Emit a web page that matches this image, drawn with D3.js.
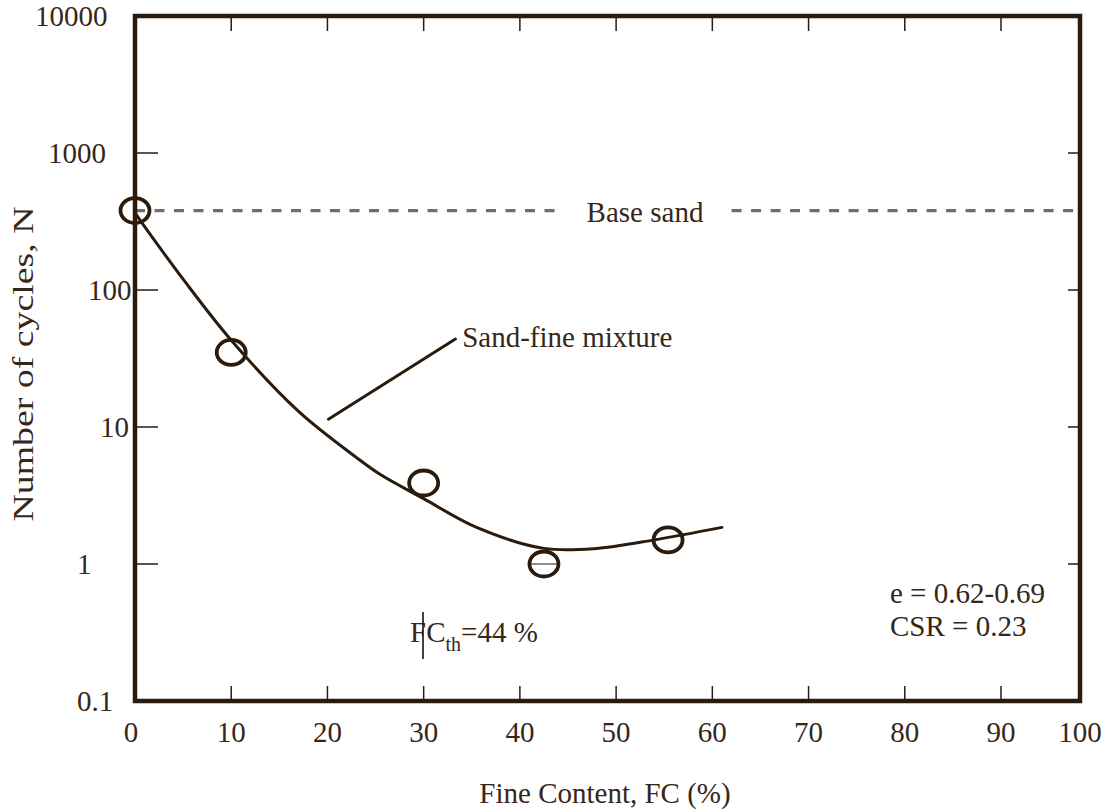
<!DOCTYPE html>
<html>
<head>
<meta charset="utf-8">
<script src="https://cdn.jsdelivr.net/npm/d3@7/dist/d3.min.js"></script>
<style>
  html, body { margin: 0; padding: 0; background: #fff; }
  svg { display: block; }
  text { font-family: "Liberation Serif", "Times New Roman", serif; fill: #36271a; }
</style>
</head>
<body>
<svg id="chart" width="1110" height="812"></svg>
<script>
// Measured cyclic tests: number of cycles to liquefaction vs fine content
const fineContent = [0, 10, 30, 42.5, 55.4];
const cycles = [380, 35, 3.9, 1.0, 1.5];

// Trend curve through the sand-fine mixture results
const trendFC = [0, 1, 5, 10, 17, 23, 25.5, 30, 35.5, 42.5, 48, 54, 61];
const trendN = [365, 290, 120, 43, 13, 6.0, 4.5, 3.0, 1.85, 1.3, 1.3, 1.5, 1.85];

// Clean base sand reference level
const baseSandN = 380;

// Axis ticks
const xTicks = [0, 10, 20, 30, 40, 50, 60, 70, 80, 90, 100];
const yTicks = [0.1, 1, 10, 100, 1000, 10000];
const yTickLabels = ["0.1", "1", "10", "100", "1000", "10000"];

const ink = "#2b1b0d";
const dashInk = "#7a6b5d";
const fontSize = 29;

const svg = d3.select("#chart");
const plotLeft = 135, plotRight = 1080, plotTop = 16, plotBottom = 701;

// Left edge of each vertical-axis label (labels were placed individually)
const yLabelStart = { "0.1": 77, "1": 77, "10": 100, "100": 88, "1000": 48, "10000": 35 };

// The horizontal axis is drawn with a compressed last interval (90-100)
const x = d3.scaleLinear().domain([0, 90, 100]).range([plotLeft, 1001, plotRight]);
const y = d3.scaleLog().domain([0.1, 10000]).range([plotBottom, plotTop]);

// Tick marks on all four sides, pointing inward
const g = svg.append("g");
const inner = xTicks.slice(1, -1);
g.append("g").selectAll("line").data(inner).join("line")
  .attr("x1", d => x(d)).attr("x2", d => x(d))
  .attr("y1", plotBottom).attr("y2", plotBottom - 15)
  .attr("stroke", ink).attr("stroke-width", 1.5);
g.append("g").selectAll("line").data(inner).join("line")
  .attr("x1", d => x(d)).attr("x2", d => x(d))
  .attr("y1", plotTop).attr("y2", plotTop + 15)
  .attr("stroke", ink).attr("stroke-width", 1.5);
const yInner = yTicks.slice(1, -1);
g.append("g").selectAll("line").data(yInner).join("line")
  .attr("x1", plotLeft).attr("x2", plotLeft + 23)
  .attr("y1", d => y(d)).attr("y2", d => y(d))
  .attr("stroke", ink).attr("stroke-width", 1.5);
g.append("g").selectAll("line").data(yInner).join("line")
  .attr("x1", plotRight).attr("x2", plotRight - 12)
  .attr("y1", d => y(d)).attr("y2", d => y(d))
  .attr("stroke", ink).attr("stroke-width", 1.5);

// Tick labels
svg.append("g").selectAll("text").data(xTicks).join("text")
  .attr("x", d => x(d) - (d === 0 ? 4 : 0)).attr("y", 742)
  .attr("text-anchor", "middle").attr("font-size", fontSize)
  .text(d => d);
svg.append("g").selectAll("text").data(yTicks).join("text")
  .attr("x", (d, i) => yLabelStart[yTickLabels[i]]).attr("y", d => y(d))
  .attr("dy", "0.35em")
  .attr("text-anchor", "start").attr("font-size", fontSize)
  .text((d, i) => yTickLabels[i]);

// Axis titles
svg.append("text")
  .attr("x", 605).attr("y", 803)
  .attr("text-anchor", "middle").attr("font-size", fontSize)
  .text("Fine Content, FC (%)");
svg.append("text")
  .attr("transform", "translate(33,364) rotate(-90)")
  .attr("text-anchor", "middle").attr("font-size", fontSize)
  .attr("textLength", 315).attr("lengthAdjust", "spacingAndGlyphs")
  .text("Number of cycles, N");

// Base sand dashed level, broken around its label
const dashSegments = [[0, 44.3], [62, 100]];
svg.append("g").selectAll("line").data(dashSegments).join("line")
  .attr("x1", d => x(d[0])).attr("x2", d => x(d[1]))
  .attr("y1", y(baseSandN)).attr("y2", y(baseSandN))
  .attr("stroke", dashInk).attr("stroke-width", 3.2)
  .attr("stroke-dasharray", "10 9.5");
svg.append("text")
  .attr("x", 645).attr("y", 222)
  .attr("text-anchor", "middle").attr("font-size", fontSize)
  .text("Base sand");

// Trend curve
const trend = trendFC.map((d, i) => [d, trendN[i]]);
svg.append("path")
  .attr("d", d3.line().x(d => x(d[0])).y(d => y(d[1])).curve(d3.curveCatmullRom)(trend))
  .attr("fill", "none").attr("stroke", ink).attr("stroke-width", 3)
  .attr("stroke-linecap", "round");

// Frame
svg.append("rect")
  .attr("x", plotLeft).attr("y", plotTop)
  .attr("width", plotRight - plotLeft).attr("height", plotBottom - plotTop)
  .attr("fill", "none").attr("stroke", ink).attr("stroke-width", 4.5);

// Test results as open markers
const pts = fineContent.map((d, i) => [d, cycles[i]]);
svg.append("g").selectAll("ellipse").data(pts).join("ellipse")
  .attr("cx", d => x(d[0])).attr("cy", d => y(d[1]))
  .attr("rx", 14.5).attr("ry", 12.5)
  .attr("fill", "none").attr("stroke", ink).attr("stroke-width", 3.8);
// thin mark across the marker lying on N = 1
svg.append("g").selectAll("line").data(pts.filter(d => d[1] === 1)).join("line")
  .attr("x1", d => x(d[0]) - 13).attr("x2", d => x(d[0]) + 13)
  .attr("y1", d => y(d[1])).attr("y2", d => y(d[1]))
  .attr("stroke", "#4a4038").attr("stroke-width", 1.2);

// Leader line and label for the mixture curve
svg.append("line")
  .attr("x1", x(20.1)).attr("y1", y(11.4))
  .attr("x2", x(33.3)).attr("y2", y(43.9))
  .attr("stroke", ink).attr("stroke-width", 3).attr("stroke-linecap", "round");
svg.append("text")
  .attr("x", x(34)).attr("y", 347)
  .attr("font-size", fontSize)
  .text("Sand-fine mixture");

// Threshold fine content note
const fcth = svg.append("text").attr("x", 410).attr("y", 642).attr("font-size", fontSize);
fcth.append("tspan").text("FC");
fcth.append("tspan").attr("font-size", 20).attr("dy", 9).text("th");
fcth.append("tspan").attr("dy", -9).text("=44 %");
svg.append("line")
  .attr("x1", 423).attr("x2", 423).attr("y1", 612).attr("y2", 659)
  .attr("stroke", "#1a1008").attr("stroke-width", 1.6);

// Test conditions
svg.append("text").attr("x", 890).attr("y", 603).attr("font-size", fontSize).text("e = 0.62-0.69");
svg.append("text").attr("x", 890).attr("y", 636).attr("font-size", fontSize).text("CSR = 0.23");
</script>
</body>
</html>
